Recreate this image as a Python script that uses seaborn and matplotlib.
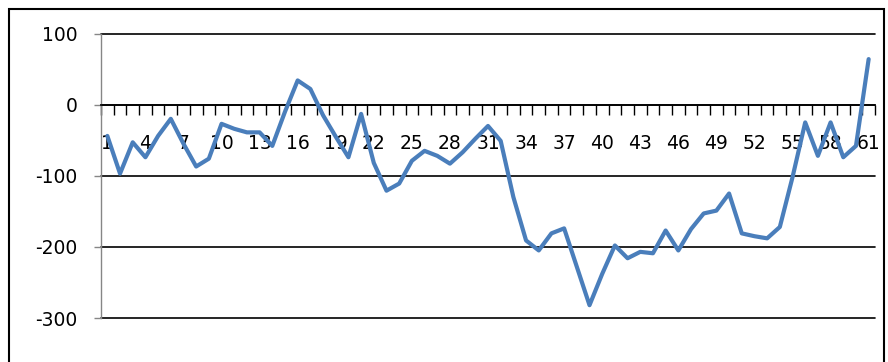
import numpy as np
import pandas as pd
import matplotlib
matplotlib.use("Agg")
import matplotlib.pyplot as plt
import seaborn as sns
from matplotlib.patches import Rectangle

periods = list(range(1, 62))
values = [-44, -97, -53, -74, -44, -20, -55, -87, -76, -27,
          -34, -39, -39, -58, -10, 34, 22, -15, -45, -74,
          -13, -82, -121, -111, -79, -65, -72, -83, -67, -48,
          -30, -51, -130, -191, -205, -181, -174, -228, -282, -238,
          -198, -216, -207, -209, -177, -205, -175, -153, -149, -125,
          -181, -185, -188, -172, -102, -25, -72, -25, -74, -58, 64]
y_ticks = [-300, -200, -100, 0, 100]
x_labels = list(range(1, 62, 3))

sns.set_style("white")
plt.rcParams['font.family'] = ['DejaVu Sans']
plt.rcParams['axes.unicode_minus'] = False
plt.rcParams['xtick.color'] = 'black'
plt.rcParams['ytick.color'] = 'black'

df = pd.DataFrame({"period": periods, "value": values})

fig = plt.figure(figsize=(8.88, 3.62), dpi=100)
ax = fig.add_axes([101/888, 44/362, 774/888, 284.5/362])
sns.lineplot(data=df, x="period", y="value", color="#4A7EBB", lw=3, ax=ax, zorder=3)

ax.set_xlim(0.5, 61.5)
ax.set_ylim(-300, 100)
ax.set_yticks(y_ticks)
ax.yaxis.grid(True, color="black", lw=1.2)
for gl in ax.get_ygridlines():
    gl.set_clip_on(False)

for s in ["top", "right"]:
    ax.spines[s].set_visible(False)
ax.spines["left"].set_color("#868686")
ax.spines["left"].set_linewidth(1)
ax.spines["bottom"].set_position(("data", 0))
ax.spines["bottom"].set_color("black")
ax.spines["bottom"].set_linewidth(1.2)

# ticks on category boundaries, labels at category centres
ax.set_xticks(np.arange(0.5, 62, 1))
ax.set_xticklabels([])
ax.set_xticks(x_labels, minor=True)
ax.set_xticklabels([str(v) for v in x_labels], minor=True)
ax.tick_params(axis="x", which="major", bottom=True, direction="out",
               length=7, width=1, color="black")
ax.tick_params(axis="x", which="minor", bottom=True, length=0, pad=21,
               labelsize=13.5, labelcolor="black")
ax.tick_params(axis="y", left=True, length=5, width=1, color="#868686",
               pad=12, labelsize=13.5, labelcolor="black")
ax.set_xlabel("")
ax.set_ylabel("")

fig.patches.append(Rectangle((9/888, -0.05), 875/888, 1.05 - 9/362,
                             transform=fig.transFigure, fill=False,
                             lw=1.5, ec="black"))

fig.savefig("out.png", dpi=100)
